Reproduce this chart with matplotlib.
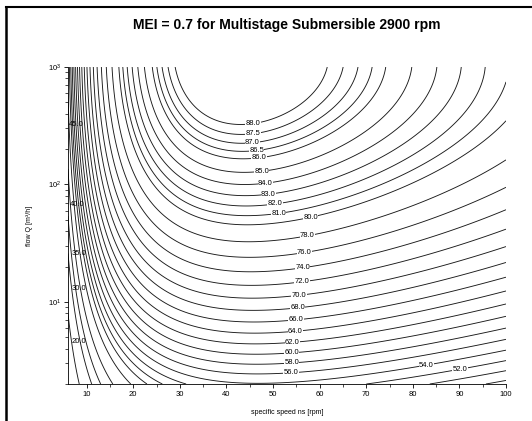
import numpy as np
import matplotlib
matplotlib.use('Agg')
import matplotlib.pyplot as plt
from matplotlib.lines import Line2D
from matplotlib.ticker import MultipleLocator, LogLocator, NullFormatter

plt.rcParams['font.family'] = ['Liberation Sans', 'DejaVu Sans']
plt.rcParams['mathtext.fontset'] = 'custom'
plt.rcParams['mathtext.rm'] = 'Liberation Sans'
plt.rcParams['mathtext.it'] = 'Liberation Sans:italic'

# efficiency surface: eta = a*x + b*y + c*x^2 + d*y^2 + e*x*y - C
# x = ln(ns), y = ln(Q); EU 547/2012 form, b and C tuned to the picture
eff_coef = [88.59, 13.66, -11.48, -0.85, -0.38]
c_value = 125.1           # multistage submersible 2900 rpm, MEI = 0.7

ns_range = [6, 100]
q_range = [2, 1000]

levels = [20, 30, 35, 40, 45, 48, 50, 52, 54, 56, 58, 60, 62, 64, 66, 68, 70,
          72, 74, 76, 78, 80, 81, 82, 83, 84, 85, 86, 86.5, 87, 87.5, 88]

# contour labels (level, ns, Q)
right_levels = [88.0, 87.5, 87.0, 86.5, 86.0, 85.0, 84.0, 83.0, 82.0, 81.0, 80.0,
                78.0, 76.0, 74.0, 72.0, 70.0, 68.0, 66.0, 64.0, 62.0, 60.0, 58.0,
                56.0, 54.0, 52.0]
right_ns = [45.6, 45.6, 45.6, 46.5, 46.9, 47.6, 48.4, 49.1, 50.4, 51.2, 58.3,
            57.5, 56.8, 56.4, 56.2, 55.5, 55.3, 54.9, 54.7, 54.2, 54.0, 54.0,
            53.8, 83.0, 90.1]
right_q = [335, 276, 227, 194, 170, 129, 104, 81, 68, 56, 49,
           35, 25.5, 19, 14.8, 11.5, 8.9, 7.2, 5.8, 4.7, 3.85, 3.2,
           2.6, 2.85, 2.6]

left_levels = [45.0, 40.0, 35.0, 30.0, 20.0]
left_ns = [6.4, 6.9, 6.9, 6.9, 6.9]
left_q = [322, 68, 26, 13.1, 4.6]


# grid for the surface
ns = np.linspace(ns_range[0], ns_range[1], 600)
q = np.geomspace(q_range[0], q_range[1], 600)
NS, Q = np.meshgrid(ns, q)
x = np.log(NS)
y = np.log(Q)
eta = (eff_coef[0]*x + eff_coef[1]*y + eff_coef[2]*x**2
       + eff_coef[3]*y**2 + eff_coef[4]*x*y - c_value)

fig = plt.figure(figsize=(5.32, 4.21), dpi=100)
ax = fig.add_axes([68/532, 1-384/421, (506-68)/532, (384-67)/421])

ax.set_yscale('log')
ax.set_xlim(ns_range)
ax.set_ylim(q_range)

cs = ax.contour(NS, Q, eta, levels=levels, colors='#1a1a1a', linewidths=0.65)


def point_on_level(level, n, qq):
    # nearest vertex of that contour level to the hint, in screen space
    segs = cs.allsegs[list(cs.levels).index(level)]
    pts = np.vstack(segs)
    scr = ax.transData.transform(pts)
    hint = ax.transData.transform((n, qq))
    i = np.argmin(((scr - hint)**2).sum(axis=1))
    return pts[i]


# labels on the right: centred on the line, line hidden beneath
for lev, n, qq in zip(right_levels, right_ns, right_q):
    px, py = point_on_level(lev, n, qq)
    ax.text(px, py, '%.1f' % lev, fontsize=5.5, ha='center', va='center',
            bbox=dict(facecolor='white', edgecolor='none', pad=0.2))

# labels on the left: text starts at the line
for lev, n, qq in zip(left_levels, left_ns, left_q):
    px, py = point_on_level(lev, n, qq)
    ax.text(px, py, '%.1f' % lev, fontsize=5.5, ha='left', va='center')

ax.spines['top'].set_visible(False)
ax.spines['right'].set_visible(False)
ax.spines['left'].set_linewidth(0.6)
ax.spines['bottom'].set_linewidth(0.6)

ax.xaxis.set_major_locator(MultipleLocator(10))
ax.xaxis.set_minor_locator(MultipleLocator(5))
ax.yaxis.set_major_locator(LogLocator(base=10))
ax.yaxis.set_minor_locator(LogLocator(base=10, subs=np.arange(2, 10)))
ax.yaxis.set_minor_formatter(NullFormatter())
ax.tick_params(which='major', direction='out', length=3, width=0.6, labelsize=5.5, pad=2)
ax.tick_params(which='minor', direction='out', length=2, width=0.5)

ax.set_xlabel('specific speed ns [rpm]', fontsize=5)
ax.set_ylabel('flow Q [m³/h]', fontsize=5)
ax.xaxis.set_label_coords(0.5, -(409-384)/317)
ax.yaxis.set_label_coords(-(68-33)/438, 0.5)

fig.text(287/532, 1-25/421, 'MEI = 0.7 for Multistage Submersible 2900 rpm',
         ha='center', va='center', fontsize=10, fontweight='bold')

# page frame
fig.add_artist(Line2D([6/532, 6/532], [0, 1-6.5/421], transform=fig.transFigure,
                      color='black', lw=1.8))
fig.add_artist(Line2D([6/532, 1], [1-6.5/421, 1-6.5/421], transform=fig.transFigure,
                      color='black', lw=1.5))

fig.savefig('out.png', dpi=100)
